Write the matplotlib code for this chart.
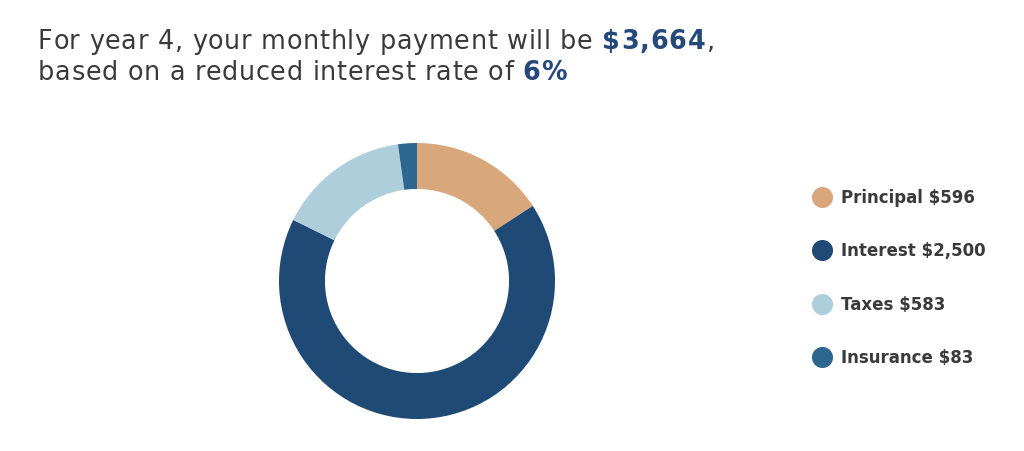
import matplotlib
matplotlib.use("Agg")
import matplotlib.pyplot as plt

# chart data
categories = ["Principal", "Interest", "Taxes", "Insurance"]
amounts = [596, 2500, 583, 83]
colors = ["#D9A77C", "#1F4A75", "#AFCEDC", "#2D6790"]
year = 4
payment = "$3,664"
rate = "6%"

TEXT = "#3a3a3a"
HIGHLIGHT = "#24497A"
plt.rcParams["font.family"] = ["DejaVu Sans"]

W, H = 1024, 452
fig = plt.figure(figsize=(W / 100, H / 100), dpi=100)

# donut
cx, cy, r = 417, 282, 138
ax = fig.add_axes([(cx - r) / W, (H - cy - r) / H, 2 * r / W, 2 * r / H])
ax.pie(amounts, colors=colors, startangle=90, counterclock=False,
       radius=1.0, wedgeprops=dict(width=0.333, linewidth=0))
ax.set_xlim(-1, 1)
ax.set_ylim(-1, 1)
ax.set_aspect("equal")
ax.axis("off")

# overlay in pixel coords for legend and title
ov = fig.add_axes([0, 0, 1, 1])
ov.set_xlim(0, W)
ov.set_ylim(H, 0)
ov.axis("off")

legend_y = [198, 251, 305, 358]
for name, val, c, y in zip(categories, amounts, colors, legend_y):
    ov.scatter([822], [y], s=230, color=c, marker="o", linewidths=0)
    ov.text(841, y, f"{name} ${val:,}", fontsize=12, fontweight="bold",
            color=TEXT, va="center", ha="left")

# title with highlighted parts, drawn char by char for letter spacing
renderer = fig.canvas.get_renderer()


def text_width(s, size, weight):
    t = ov.text(0, 0, s, fontsize=size, fontweight=weight)
    w = t.get_window_extent(renderer=renderer).width
    t.remove()
    return w


def rich_line(x, y, parts):
    for s, col, bold in parts:
        size = 18.4 if bold else 18.4
        weight = "bold" if bold else "normal"
        track = 0.9 if bold else 0.7
        for i, ch in enumerate(s):
            dx = text_width(s[:i], size, weight) if i else 0
            ov.text(x + dx + i * track, y, ch, fontsize=size, color=col,
                    va="baseline", ha="left", fontweight=weight)
        x += text_width(s, size, weight) + len(s) * track


rich_line(38, 49, [(f"For year {year}, your monthly payment will be ", TEXT, False),
                   (payment, HIGHLIGHT, True), (",", TEXT, False)])
rich_line(38, 80, [("based on a reduced interest rate of ", TEXT, False),
                   (rate, HIGHLIGHT, True)])

fig.savefig("out.png", dpi=100)
